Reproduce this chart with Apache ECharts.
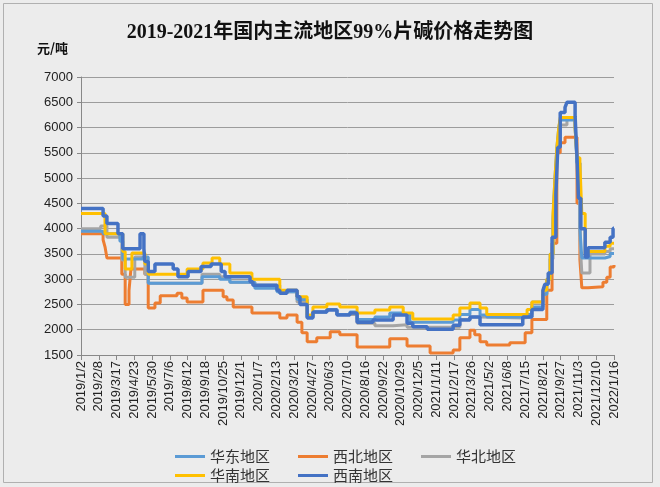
<!DOCTYPE html>
<html>
<head>
<meta charset="utf-8">
<script src="https://cdn.jsdelivr.net/npm/echarts@6/dist/echarts.min.js"></script>
<style>
html,body{margin:0;padding:0;background:#ececec;}
#c{width:660px;height:487px;}
</style>
</head>
<body>
<div id="c"></div>
<script>
// Category labels: every day 2019/1/2 .. 2022/1/16
const startDate = [2019, 1, 2];
const dayCount = 1111;
const categories = [];
for (let i = 0; i < dayCount; i++) {
  const d = new Date(Date.UTC(startDate[0], startDate[1] - 1, startDate[2] + i));
  categories.push(d.getUTCFullYear() + '/' + (d.getUTCMonth() + 1) + '/' + d.getUTCDate());
}
const yTicks = {min: 1500, max: 7000, interval: 500};
const seriesNames = ['华东地区', '西北地区', '华北地区', '华南地区', '西南地区'];

// 华东地区 (change points)
const huadong = [
['2019/1/2',3950],['2019/2/17',3900],['2019/3/24',3750],['2019/3/30',3400],['2019/5/11',3440],['2019/5/22',2920],
['2019/9/11',3050],['2019/10/18',3000],['2019/11/8',2940],['2019/12/30',2820],['2020/2/14',2750],['2020/3/27',2600],
['2020/4/17',2250],['2020/4/29',2350],['2020/5/28',2400],['2020/6/18',2300],['2020/7/15',2350],['2020/7/30',2200],
['2020/9/5',2250],['2020/10/6',2330],['2020/11/3',2300],['2020/11/17',2150],['2021/2/15',2190],['2021/3/1',2300],
['2021/3/22',2400],['2021/4/12',2290],['2021/4/26',2250],['2021/7/10',2300],['2021/7/29',2450],['2021/8/21',2700],
['2021/8/29',3000],['2021/9/5',3500],['2021/9/11',4200],['2021/9/15',5000],['2021/9/19',5600],['2021/9/23',6000],
['2021/9/26',6150],['2021/10/27',6000],['2021/10/31',5300],['2021/11/6',4000],['2021/11/10',3420],['2021/12/28',3450],
['2022/1/8',3510],['2022/1/16',3510]
];
// 西北地区
const xibei = [
['2019/1/2',3900],['2019/2/17',3780],['2019/2/21',3640],['2019/2/25',3420],['2019/3/28',3100],['2019/4/4',2500],
['2019/4/12',2780],['2019/4/16',3200],['2019/5/15',3100],['2019/5/22',2430],['2019/6/5',2530],['2019/6/16',2670],
['2019/7/21',2720],['2019/7/31',2630],['2019/8/11',2550],['2019/9/13',2780],['2019/10/25',2650],['2019/11/2',2590],
['2019/11/15',2450],['2019/12/24',2330],['2020/2/20',2230],['2020/3/6',2290],['2020/3/27',2150],['2020/4/6',1940],
['2020/4/17',1760],['2020/5/7',1840],['2020/6/4',1960],['2020/6/24',1900],['2020/7/30',1660],['2020/10/6',1820],
['2020/11/11',1680],['2020/12/29',1540],['2021/2/15',1600],['2021/3/1',1840],['2021/3/22',1990],['2021/4/1',1900],
['2021/4/12',1760],['2021/4/26',1700],['2021/6/13',1740],['2021/7/15',1940],['2021/7/29',2200],['2021/8/29',2780],
['2021/9/9',3710],['2021/9/19',5500],['2021/9/26',5700],['2021/10/6',5810],['2021/10/31',4500],['2021/11/6',3380],
['2021/11/10',2830],['2021/11/23',2850],['2021/12/24',2940],['2022/1/1',3040],['2022/1/8',3240],['2022/1/16',3280]
];
// 华北地区
const huabei = [
['2019/1/2',4000],['2019/2/12',4050],['2019/2/25',3830],['2019/3/28',3380],['2019/4/4',3040],['2019/4/24',3440],
['2019/5/15',3100],['2019/5/22',2920],['2019/9/11',3100],['2019/10/18',3050],['2019/11/8',2940],['2019/12/30',2880],
['2020/2/20',2750],['2020/3/27',2550],['2020/4/17',2250],['2020/4/29',2350],['2020/5/28',2400],['2020/6/18',2300],
['2020/7/30',2130],['2020/9/5',2080],['2020/10/13',2100],['2020/11/11',2050],['2021/3/1',2200],['2021/3/22',2250],
['2021/4/12',2230],['2021/7/10',2250],['2021/7/29',2550],['2021/8/21',2700],['2021/8/29',3000],['2021/9/5',3400],
['2021/9/11',4100],['2021/9/15',4900],['2021/9/19',5500],['2021/9/23',5900],['2021/9/26',6050],['2021/10/10',6200],
['2021/10/27',6000],['2021/10/31',5300],['2021/11/6',3800],['2021/11/10',3120],['2021/11/27',3500],['2021/12/28',3550],
['2022/1/8',3600],['2022/1/16',3600]
];
// 华南地区
const huanan = [
['2019/1/2',4300],['2019/2/21',3900],['2019/3/30',3550],['2019/4/4',3200],['2019/4/18',3520],['2019/5/15',3300],
['2019/5/22',3100],['2019/8/11',3200],['2019/9/13',3320],['2019/10/2',3420],['2019/10/18',3300],['2019/11/8',3120],
['2019/12/24',3000],['2020/2/20',2780],['2020/3/27',2650],['2020/4/17',2290],['2020/4/29',2450],['2020/5/28',2510],
['2020/6/24',2450],['2020/7/30',2330],['2020/9/5',2390],['2020/10/6',2450],['2020/11/3',2330],['2020/11/23',2210],
['2021/2/15',2290],['2021/3/1',2430],['2021/3/22',2530],['2021/4/12',2430],['2021/4/26',2300],['2021/7/19',2400],
['2021/7/29',2550],['2021/8/21',2780],['2021/8/29',3000],['2021/9/5',3500],['2021/9/11',4300],['2021/9/15',5000],
['2021/9/19',5600],['2021/9/23',6000],['2021/9/26',6200],['2021/10/27',6000],['2021/10/31',5400],['2021/11/6',5300],
['2021/11/10',4300],['2021/11/17',3500],['2021/11/23',3550],['2021/12/28',3650],['2022/1/8',3710],['2022/1/16',3710]
];
// 西南地区
const xinan = [
['2019/1/2',4400],['2019/2/17',4250],['2019/2/25',4100],['2019/3/20',3900],['2019/3/30',3600],['2019/5/5',3900],
['2019/5/13',3600],['2019/5/15',3350],['2019/5/22',3150],['2019/6/5',3300],['2019/7/13',3200],['2019/7/23',3050],
['2019/8/13',3150],['2019/9/9',3250],['2019/9/30',3300],['2019/10/21',3150],['2019/10/29',3050],['2019/12/20',2950],
['2019/12/26',2880],['2020/2/14',2780],['2020/2/20',2720],['2020/3/6',2780],['2020/3/27',2650],['2020/4/2',2500],
['2020/4/17',2230],['2020/4/29',2350],['2020/5/28',2390],['2020/6/18',2290],['2020/7/15',2330],['2020/7/30',2150],
['2020/9/1',2190],['2020/10/13',2290],['2020/11/11',2130],['2020/11/23',2060],['2020/12/23',2010],['2021/2/15',2090],
['2021/3/1',2190],['2021/3/22',2250],['2021/4/12',2100],['2021/7/10',2250],['2021/7/29',2400],['2021/8/21',2780],
['2021/8/25',2900],['2021/9/1',3120],['2021/9/9',3830],['2021/9/17',4700],['2021/9/21',5610],['2021/9/26',6300],
['2021/10/6',6400],['2021/10/10',6500],['2021/10/27',6220],['2021/10/31',5400],['2021/11/3',4600],['2021/11/8',4000],
['2021/11/17',3440],['2021/11/23',3620],['2021/12/28',3730],['2022/1/8',3830],['2022/1/14',4010],['2022/1/16',4010]
];

const colors = {'华东地区':'#5b9bd5','西北地区':'#ed7d31','华北地区':'#a5a5a5','华南地区':'#ffc000','西南地区':'#4472c4'};
const dataMap = {'华东地区':huadong,'西北地区':xibei,'华北地区':huabei,'华南地区':huanan,'西南地区':xinan};
const widths = {'华东地区':3,'西北地区':3,'华北地区':3,'华南地区':3,'西南地区':3.5};
const drawOrder = ['西北地区','华北地区','华东地区','华南地区','西南地区'];

const chart = echarts.init(document.getElementById('c'));
const legendText = {fontSize: 15, color: '#333', fontFamily: "'Noto Sans CJK SC'"};
chart.setOption({
  backgroundColor: '#ececec',
  animation: false,
  title: {
    text: '2019-2021年国内主流地区99%片碱价格走势图',
    left: 'center', top: 18,
    textStyle: {fontSize: 20, fontWeight: 'bold', color: '#111', fontFamily: "'Liberation Serif','Noto Sans CJK SC'"}
  },
  graphic: [
    {type: 'rect', shape: {x: 3.5, y: 3.5, width: 649, height: 479}, style: {fill: 'none', stroke: '#b0b0b0', lineWidth: 1}, silent: true},
    {type: 'text', left: 37, top: 42, style: {text: '元/吨', fontSize: 13, fontWeight: 'bold', fill: '#111', fontFamily: "'Noto Sans CJK SC'"}}
  ],
  legend: [
    {data: ['华东地区','西北地区','华北地区'], left: 170, top: 444, itemWidth: 30, itemHeight: 3, itemGap: 28,
     icon: 'rect', textStyle: legendText},
    {data: ['华南地区','西南地区'], left: 170, top: 463, itemWidth: 30, itemHeight: 3, itemGap: 28,
     icon: 'rect', textStyle: legendText}
  ],
  grid: {left: 81, right: 46, top: 77, bottom: 132},
  xAxis: {
    type: 'category', data: categories, boundaryGap: false,
    axisLine: {lineStyle: {color: '#888', width: 1}},
    axisTick: {interval: 36, length: 5, lineStyle: {color: '#888'}},
    axisLabel: {interval: 36, rotate: 90, fontSize: 13, color: '#222', margin: 6, fontFamily: "'Liberation Sans'"},
    splitLine: {show: false}
  },
  yAxis: {
    type: 'value', min: yTicks.min, max: yTicks.max, interval: yTicks.interval,
    axisLine: {show: true, lineStyle: {color: '#888'}},
    axisTick: {show: true, length: 4, lineStyle: {color: '#888'}},
    axisLabel: {fontSize: 13, color: '#222', margin: 8, fontFamily: "'Liberation Sans'", formatter: v => String(v)},
    splitLine: {lineStyle: {color: '#9c9c9c', width: 1}}
  },
  series: drawOrder.map(n => ({
    name: n, type: 'line', step: 'end', symbol: 'none', data: dataMap[n],
    itemStyle: {color: colors[n]},
    lineStyle: {color: colors[n], width: widths[n]}
  }))
});
</script>
</body>
</html>
